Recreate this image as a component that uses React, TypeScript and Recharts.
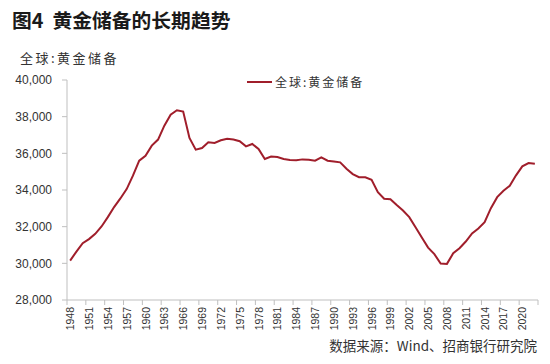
import { Line, LineChart, XAxis, YAxis } from "recharts";

const years = [
  1948, 1949, 1950, 1951, 1952, 1953, 1954, 1955, 1956, 1957, 1958, 1959, 1960, 1961, 1962,
  1963, 1964, 1965, 1966, 1967, 1968, 1969, 1970, 1971, 1972, 1973, 1974, 1975, 1976, 1977,
  1978, 1979, 1980, 1981, 1982, 1983, 1984, 1985, 1986, 1987, 1988, 1989, 1990, 1991, 1992,
  1993, 1994, 1995, 1996, 1997, 1998, 1999, 2000, 2001, 2002, 2003, 2004, 2005, 2006, 2007,
  2008, 2009, 2010, 2011, 2012, 2013, 2014, 2015, 2016, 2017, 2018, 2019, 2020, 2021, 2022,
];

// 全球黄金储备（吨）
const goldReserves = [
  30150, 30640, 31100, 31320, 31610, 32010, 32520, 33070, 33540, 34050, 34780, 35600, 35870, 36420, 36750,
  37510, 38110, 38350, 38280, 36840, 36200, 36290, 36600, 36570, 36710, 36790, 36750, 36660, 36380, 36510,
  36240, 35690, 35830, 35800, 35690, 35640, 35620, 35670, 35650, 35600, 35780, 35600, 35560, 35510, 35160,
  34870, 34700, 34690, 34560, 33880, 33520, 33500, 33180, 32880, 32520, 31970, 31410, 30860, 30500, 29990,
  29970, 30550, 30820, 31190, 31630, 31900, 32250, 33010, 33610, 33960, 34230, 34800, 35290, 35470, 35430,
];

const xTicks = [
  1948, 1951, 1954, 1957, 1960, 1963, 1966, 1969, 1972, 1975, 1978, 1981, 1984, 1987, 1990,
  1993, 1996, 1999, 2002, 2005, 2008, 2011, 2014, 2017, 2020,
];
const yTicks = [28000, 30000, 32000, 34000, 36000, 38000, 40000];

const seriesName = "全球:黄金储备";
const title = "图4  黄金储备的长期趋势";
const source = "数据来源：Wind、招商银行研究院";

const W = 550;
const H = 364;
const AXIS_W = 67;
const RIGHT = 12;
const STEP = (W - AXIS_W - RIGHT) / years.length;
const AXIS_COLOR = "#bfbfbf";
const LINE_COLOR = "#a01e2b";
const CJK = '"Noto Sans CJK SC", "Noto Sans", sans-serif';
const LATIN = '"Liberation Sans", Arial, sans-serif';

const data = years.map((year, i) => ({ year, value: goldReserves[i] }));

function XTick({ x, y, payload }: { x: number; y: number; payload: { value: number } }) {
  const isLast = payload.value === xTicks[xTicks.length - 1];
  const bx = x - STEP / 2;
  return (
    <g>
      <line x1={bx} x2={bx} y1={y} y2={y + 5} stroke={AXIS_COLOR} />
      {isLast && (
        <line x1={x + STEP * 2.5} x2={x + STEP * 2.5} y1={y} y2={y + 5} stroke={AXIS_COLOR} />
      )}
      <text
        x={x}
        y={y + 7}
        transform={`rotate(-90 ${x} ${y + 7})`}
        textAnchor="end"
        dominantBaseline="central"
        fill="#333"
        fontSize={10.5}
        fontFamily={LATIN}
      >
        {payload.value}
      </text>
    </g>
  );
}

export default function App() {
  return (
    <div style={{ position: "relative", width: W, height: H, background: "#fff" }}>
      <style>{"body{margin:0}"}</style>
      <div
        style={{
          position: "absolute",
          left: 12,
          top: 10,
          fontFamily: CJK,
          fontWeight: 700,
          fontSize: 19.8,
          lineHeight: "20px",
          color: "#1a1a1a",
          whiteSpace: "pre",
        }}
      >
        {title}
      </div>
      <div
        style={{
          position: "absolute",
          left: 20,
          top: 51,
          fontFamily: CJK,
          fontSize: 13,
          lineHeight: "14px",
          letterSpacing: 2.5,
          color: "#333",
        }}
      >
        {seriesName}
      </div>
      <div
        style={{
          position: "absolute",
          left: 247,
          top: 75,
          display: "flex",
          alignItems: "center",
          fontFamily: CJK,
          fontSize: 12,
          lineHeight: "14px",
          letterSpacing: 2,
          color: "#333",
          zIndex: 1,
        }}
      >
        <span style={{ display: "inline-block", width: 25, height: 2, background: LINE_COLOR, marginRight: 3 }} />
        {seriesName}
      </div>
      <div
        style={{
          position: "absolute",
          right: 13,
          top: 337,
          fontFamily: CJK,
          fontSize: 13.5,
          lineHeight: "16px",
          color: "#333",
        }}
      >
        {source}
      </div>
      <LineChart width={W} height={H} data={data} margin={{ top: 80, right: RIGHT, left: 0, bottom: 30 }}>
        <XAxis
          dataKey="year"
          type="number"
          domain={[years[0] - 0.5, years[years.length - 1] + 0.5]}
          ticks={xTicks}
          interval={0}
          height={34}
          tickSize={0}
          tickMargin={0}
          tickLine={false}
          axisLine={{ stroke: AXIS_COLOR }}
          tick={(props: any) => <XTick {...props} />}
        />
        <YAxis
          type="number"
          domain={[28000, 40000]}
          ticks={yTicks}
          width={AXIS_W}
          tickSize={5}
          tickMargin={10}
          axisLine={{ stroke: AXIS_COLOR }}
          tickLine={{ stroke: AXIS_COLOR }}
          tick={{ fill: "#333", fontSize: 12, fontFamily: LATIN }}
          tickFormatter={(v: number) => v.toLocaleString("en-US")}
        />
        <Line
          type="linear"
          dataKey="value"
          name={seriesName}
          stroke={LINE_COLOR}
          strokeWidth={2}
          dot={false}
          isAnimationActive={false}
        />
      </LineChart>
    </div>
  );
}
